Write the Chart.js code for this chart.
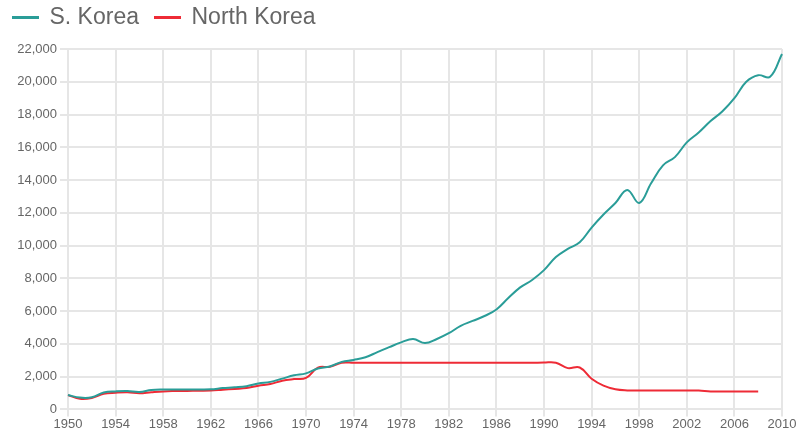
<!DOCTYPE html>
<html>
<head>
<meta charset="utf-8">
<script src="https://cdn.jsdelivr.net/npm/chart.js@4.4.0/dist/chart.umd.min.js"></script>
<style>
  html, body { margin: 0; padding: 0; background: #fff; }
  #wrap { width: 800px; height: 432px; }
</style>
</head>
<body>
<div id="wrap"><canvas id="chartID"></canvas></div>
<script>
// GDP per capita, 1950-2010
const years = []
for (let y = 1950; y <= 2010; y++) years.push(String(y))

const southKorea = [
	880, 720, 740, 1030, 1100, 1120, 1060, 1180, 1210, 1210,
	1210, 1220, 1230, 1300, 1350, 1420, 1580, 1680, 1880, 2080,
	2200, 2500, 2620, 2900, 3020, 3180, 3500, 3800, 4090, 4300,
	4050, 4300, 4650, 5100, 5400, 5700, 6100, 6800, 7450, 7900,
	8500, 9300, 9800, 10200, 11100, 11900, 12600, 13400, 12600, 13800,
	14900, 15400, 16300, 16900, 17600, 18200, 19000, 20000, 20400, 20300,
	21700,
]

const northKorea = [
	870, 650, 700, 950, 1020, 1050, 990, 1050, 1100, 1120,
	1130, 1140, 1150, 1200, 1250, 1300, 1450, 1550, 1750, 1850,
	1920, 2550, 2600, 2850, 2850, 2850, 2850, 2850, 2850, 2850,
	2850, 2850, 2850, 2850, 2850, 2850, 2850, 2850, 2850, 2850,
	2860, 2850, 2520, 2560, 1870, 1450, 1230, 1160, 1150, 1150,
	1150, 1150, 1150, 1150, 1100, 1100, 1100, 1100, 1100, null,
	null,
]

const skColor = '#2a9d98'
const nkColor = '#ee2b36'
const gridColor = '#e6e6e6'
const fontFamily = '"Liberation Sans", Arial, Helvetica, sans-serif'

const data = {
	labels: years,
	datasets: [
		{
			label: 'S. Korea',
			data: southKorea,
			borderColor: skColor,
			backgroundColor: skColor,
			borderWidth: 2,
			fill: false,
			tension: 0.4,
			pointRadius: 0,
		},
		{
			label: 'North Korea',
			data: northKorea,
			borderColor: nkColor,
			backgroundColor: nkColor,
			borderWidth: 2,
			fill: false,
			tension: 0.4,
			pointRadius: 0,
		},
	],
}

// give the legend a bit more room below it
const legendSpace = {
	id: 'legendSpace',
	beforeInit: function(chart) {
		const fit = chart.legend.fit
		chart.legend.fit = function() {
			fit.bind(chart.legend)()
			this.height += 10
		}
	},
}

window.onload = function() {
	let chartCtx = document.getElementById('chartID').getContext('2d')
	window.lineChart = new Chart(chartCtx, {
		type: 'line',
		data: data,
		plugins: [legendSpace],
		options: {
			responsive: true,
			maintainAspectRatio: false,
			animation: false,
			layout: { padding: { left: -3, right: 18, top: -10, bottom: 0 } },
			plugins: {
				tooltip: { enabled: false },
				legend: {
					position: 'top',
					align: 'start',
					labels: {
						boxWidth: 25,
						boxHeight: 1,
						padding: 16,
						color: '#666',
						font: { size: 23, family: fontFamily },
					},
				},
			},
			scales: {
				x: {
					grid: {
						lineWidth: 2,
						color: function(ctx) {
							return ctx.index % 4 === 0 ? gridColor : 'rgba(0,0,0,0)'
						},
						tickLength: 7,
					},
					border: { display: false },
					ticks: {
						autoSkip: false,
						maxRotation: 0,
						padding: 0,
						color: '#666',
						font: { size: 13, family: fontFamily },
						callback: function(value, index) {
							return index % 4 === 0 ? this.getLabelForValue(value) : ''
						},
					},
				},
				y: {
					min: 0,
					max: 22000,
					afterFit: function(scale) {
						scale.width = 71
					},
					grid: { lineWidth: 2, color: gridColor, tickLength: 8 },
					border: { display: false },
					ticks: {
						stepSize: 2000,
						padding: 3,
						color: '#666',
						font: { size: 13, family: fontFamily },
						callback: function(value) {
							return value.toLocaleString('en-US')
						},
					},
				},
			},
		},
	})
}
</script>
</body>
</html>
